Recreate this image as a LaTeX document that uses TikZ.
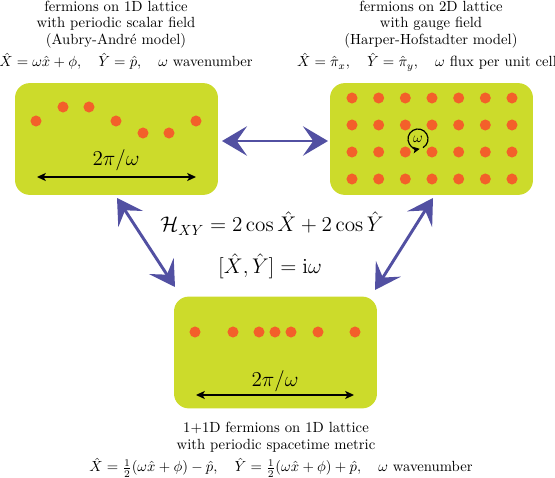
\documentclass[tikz,border=0pt]{standalone}
\usepackage{amsmath}
\usetikzlibrary{arrows.meta}
\definecolor{boxgreen}{RGB}{204,219,43}
\definecolor{dotorange}{RGB}{243,96,42}
\definecolor{arrowblue}{RGB}{82,80,162}
\begin{document}
\begin{tikzpicture}[x=0.68pt,y=-0.68pt,
  panel/.style={fill=boxgreen, draw=none, rounded corners=10pt, minimum width=138pt, minimum height=76pt, inner sep=0pt},
  fermion/.style={circle, fill=dotorange, draw=none, minimum size=7.5pt, inner sep=0pt},
  bigarrow/.style={draw=arrowblue, line width=2pt, {Stealth[length=17pt,width=20pt,inset=7pt]}-{Stealth[length=17pt,width=20pt,inset=7pt]}},
  period/.style={line width=0.9pt, {Stealth[length=6pt,width=5.5pt,inset=1.5pt]}-{Stealth[length=6pt,width=5.5pt,inset=1.5pt]}},
  caption/.style={align=center, inner sep=0pt, anchor=north, font=\fontsize{10}{11.4}\selectfont},
  formula/.style={anchor=base, inner sep=0pt},
  bigformula/.style={anchor=base, inner sep=0pt, font=\Large}]
\useasboundingbox (0,0) rectangle (555,478);

% panels
\node[panel] (p1) at (116.5,139) {};
\node[panel] (p2) at (431.5,139) {};
\node[panel] (p3) at (275.5,352.5) {};

% panel 1: Aubry-Andre
\foreach \x/\y [count=\i] in {36/121, 63/107, 89/107, 116/121, 143/133, 169/133, 196/121}
  \node[fermion] (a\i) at (\x,\y) {};
\coordinate (a1l) at (37,177);
\coordinate (a1r) at (196,177);
\draw[period] (a1l) -- (a1r);
\node[bigformula] (w1) at (116,166) {$2\pi/\omega$};

% panel 2: Harper-Hofstadter
\foreach \i in {0,...,6}
  \foreach \j/\y in {0/98, 1/125, 2/152, 3/179}
    \node[fermion] (g\i\j) at ({352+26.667*\i},\y) {};
\node[inner sep=0pt] (om) at (418,139) {$\omega$};
\draw[line width=0.8pt, -{Stealth[length=4.5pt,width=4.5pt,inset=1pt]}]
  ([shift={(-60:6.8pt)}]om.center) arc[start angle=-60, end angle=280, radius=6.8pt];

% panel 3: spacetime metric
\foreach \x [count=\i] in {195, 233, 259, 275, 291, 318, 355}
  \node[fermion] (s\i) at (\x,332) {};
\coordinate (a3l) at (196,395);
\coordinate (a3r) at (354,395);
\draw[period] (a3l) -- (a3r);
\node[bigformula] (w3) at (275,387) {$2\pi/\omega$};

% blue arrows
\coordinate (h1) at (222,141);
\coordinate (h2) at (328,141);
\coordinate (l1) at (117,198);
\coordinate (l2) at (175,287);
\coordinate (r1) at (433,198);
\coordinate (r2) at (375,290);
\draw[bigarrow] (h1) -- (h2);
\draw[bigarrow] (l1) -- (l2);
\draw[bigarrow] (r1) -- (r2);

% centre formulas
\node[bigformula] (ham) at (272,232) {$\mathcal{H}_{XY} = 2\cos\hat{X} + 2\cos\hat{Y}$};
\node[bigformula] (comm) at (270,274) {$[\hat{X},\hat{Y}] = \mathrm{i}\omega$};

% captions
\node[caption] (c1) at (116,0.5) {fermions on 1D lattice\\with periodic scalar field\\(Aubry-Andr\'e model)};
\node[formula] (e1) at (126,67) {$\hat{X} = \omega\hat{x} + \phi,\quad \hat{Y} = \hat{p},\quad \omega$ wavenumber};

\node[caption] (c2) at (431,0.5) {fermions on 2D lattice\\with gauge field\\(Harper-Hofstadter model)};
\node[formula] (e2) at (427,67) {$\hat{X} = \hat{\pi}_x,\quad \hat{Y} = \hat{\pi}_y,\quad \omega$ flux per unit cell};

\node[caption] (c3) at (276,421.8) {1+1D fermions on 1D lattice\\with periodic spacetime metric};
\node[formula] (e3) at (281,472) {$\hat{X} = \tfrac{1}{2}(\omega\hat{x} + \phi) - \hat{p},\quad \hat{Y} = \tfrac{1}{2}(\omega\hat{x} + \phi) + \hat{p},\quad \omega$ wavenumber};
\end{tikzpicture}
\end{document}
